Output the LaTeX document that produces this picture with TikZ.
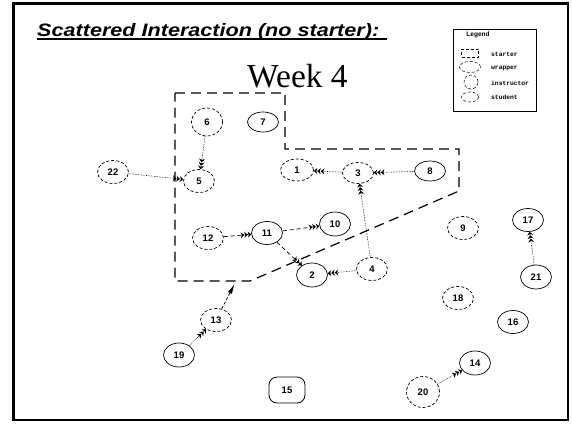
\documentclass[tikz,border=0pt]{standalone}
\usepackage{fontspec}
\setmainfont{Liberation Serif}
\setsansfont{Liberation Sans}
\setmonofont{Liberation Mono}
\usetikzlibrary{shapes.geometric,arrows.meta}
\begin{document}
\begin{tikzpicture}[x=1pt,y=-1pt,
  stud/.style={ellipse,draw,densely dashed,line width=0.7pt,minimum width=31pt,minimum height=23pt,inner sep=0pt,
    font=\sffamily\bfseries\fontsize{9.5}{9.5}\selectfont},
  inst/.style={stud,solid},
  hatch/.style={-{Stealth[length=3.5pt,width=6pt]Stealth[length=3.5pt,width=6pt]Stealth[length=3.5pt,width=6pt]}},
  edg/.style={line width=0.6pt,densely dotted,hatch},
  dedg/.style={line width=0.7pt,dash pattern=on 4pt off 3pt,hatch},
  wrap/.style={line width=1.2pt,dash pattern=on 10pt off 6pt},
  legtext/.style={font=\ttfamily\bfseries\fontsize{6.3}{6.3}\selectfont,anchor=west,inner sep=0pt},
  legshape/.style={draw,densely dashed,line width=0.5pt,inner sep=0pt}
]
\useasboundingbox (0,0) rectangle (572,423);
% frame
\draw[line width=2.5pt] (13.5,3.5) rectangle (568,420);
% title
\node[anchor=base west,inner sep=0pt] (title) at (37,36)
  {\scalebox{1.2}[1]{\sffamily\bfseries\itshape\fontsize{18}{18}\selectfont Scattered Interaction (no starter):}};
\draw[line width=1.8pt] (37,39) -- (387,39);
\node[anchor=base west,inner sep=0pt,font=\fontsize{33.5}{33.5}\selectfont] (week) at (247,87) {Week 4};
% legend
\draw[line width=0.8pt] (453,29) rectangle (536,111);
\node[font=\sffamily\bfseries\fontsize{6.5}{6.5}\selectfont,inner sep=0pt] (legend) at (478,35) {Legend};
\node[legshape,rectangle,minimum width=17pt,minimum height=8pt] (lstarter) at (470,53) {};
\node[legtext] (tstarter) at (491,54) {starter};
\node[legshape,ellipse,minimum width=21pt,minimum height=11pt] (lwrapper) at (470,67) {};
\node[legtext] (twrapper) at (491,68) {wrapper};
\node[legshape,ellipse,minimum width=14pt,minimum height=14pt] (linstr) at (471,82) {};
\node[legtext] (tinstr) at (491,83) {instructor};
\node[legshape,ellipse,minimum width=17pt,minimum height=10pt] (lstud) at (470,97) {};
\node[legtext] (tstud) at (491,97) {student};
% wrapper region
\draw[wrap] (175,93) -- (285,93) -- (285,149) -- (459,149) -- (459,191) -- (250,281) -- (175,281) -- cycle;
\coordinate (wtip) at (234.5,284);
% nodes
\node[stud,minimum width=31pt,minimum height=28pt] (n6) at (207,122) {6};
\node[inst,minimum height=20pt] (n7) at (263,122) {7};
\node[stud] (n22) at (113,172) {22};
\node[stud] (n5) at (199,181) {5};
\node[stud,minimum width=33pt,minimum height=22pt] (n1) at (297,170) {1};
\node[stud,minimum height=21pt] (n3) at (358,173) {3};
\node[inst,minimum height=20pt] (n8) at (430,171) {8};
\node[stud] (n12) at (208,238) {12};
\node[inst] (n11) at (267,233) {11};
\node[inst,minimum height=24pt] (n10) at (335,224) {10};
\node[inst,minimum height=24pt] (n2) at (312,275) {2};
\node[stud] (n4) at (372,269) {4};
\node[stud] (n9) at (463,228) {9};
\node[inst] (n17) at (528,220) {17};
\node[inst,minimum height=24pt] (n21) at (536,277) {21};
\node[stud] (n18) at (458,298) {18};
\node[inst] (n16) at (513,322) {16};
\node[stud] (n13) at (216,320) {13};
\node[inst,minimum height=24pt] (n19) at (179,355) {19};
\node[draw,rounded corners=8pt,line width=0.8pt,minimum width=36pt,minimum height=26pt,inner sep=0pt,
  font=\sffamily\bfseries\fontsize{9.5}{9.5}\selectfont] (n15) at (287,390) {15};
\node[inst,minimum height=24pt] (n14) at (475,363) {14};
\node[stud,minimum width=33pt,minimum height=31pt] (n20) at (423,392) {20};
% edges
\draw[edg] (n6) -- (n5);
\draw[edg] (n22) -- (n5);
\draw[edg] (n3) -- (n1);
\draw[edg] (n8) -- (n3);
\draw[edg] (n4) -- (n3);
\draw[edg] (n4) -- (n2);
\draw[dedg] (n12) -- (n11);
\draw[dedg] (n11) -- (n10);
\draw[dedg] (n11) -- (n2);
\draw[edg] (n19) -- (n13);
\draw[edg] (n20) -- (n14);
\draw[edg] (n21) -- (n17);
\draw[line width=0.7pt,densely dashed,-{Latex[length=10pt,width=4.5pt]}] (n13) -- (wtip);
\end{tikzpicture}
\end{document}
